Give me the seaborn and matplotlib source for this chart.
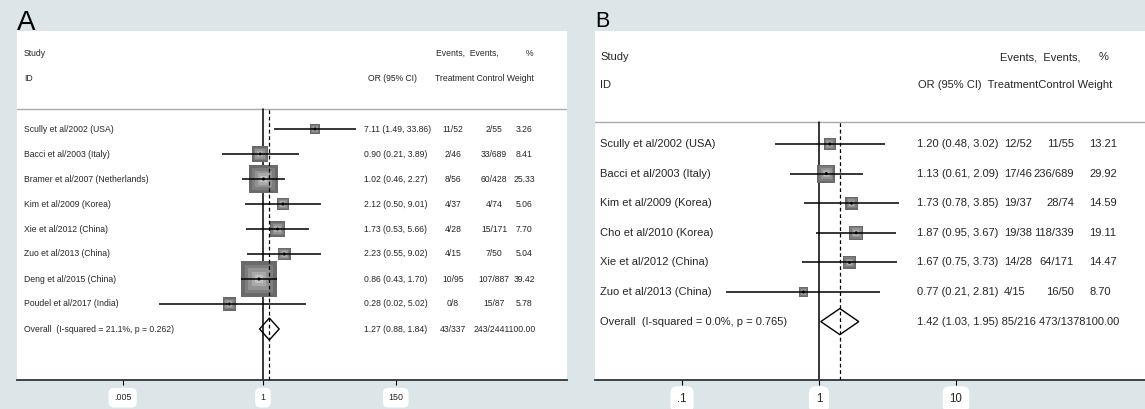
import numpy as np
import matplotlib
matplotlib.use("Agg")
import matplotlib.pyplot as plt
import matplotlib.transforms as mtransforms
from matplotlib.ticker import NullLocator
import seaborn as sns

# ---------------- data: panel A ----------------
a_studies = ["Scully et al/2002 (USA)", "Bacci et al/2003 (Italy)",
             "Bramer et al/2007 (Netherlands)", "Kim et al/2009 (Korea)",
             "Xie et al/2012 (China)", "Zuo et al/2013 (China)",
             "Deng et al/2015 (China)", "Poudel et al/2017 (India)"]
a_or = [7.11, 0.90, 1.02, 2.12, 1.73, 2.23, 0.86, 0.28]
a_lo = [1.49, 0.21, 0.46, 0.50, 0.53, 0.55, 0.43, 0.02]
a_hi = [33.86, 3.89, 2.27, 9.01, 5.66, 9.02, 1.70, 5.02]
a_treat = ["11/52", "2/46", "8/56", "4/37", "4/28", "4/15", "10/95", "0/8"]
a_ctrl = ["2/55", "33/689", "60/428", "4/74", "15/171", "7/50", "107/887", "15/87"]
a_weight = [3.26, 8.41, 25.33, 5.06, 7.70, 5.04, 39.42, 5.78]
a_overall = [1.27, 0.88, 1.84]
a_overall_label = "Overall  (I-squared = 21.1%, p = 0.262)"
a_overall_treat = "43/337"
a_overall_ctrl = "243/2441"
a_overall_weight = 100.00
a_ticks = [0.005, 1, 150]
a_ticklabels = [".005", "1", "150"]

# ---------------- data: panel B ----------------
b_studies = ["Scully et al/2002 (USA)", "Bacci et al/2003 (Italy)",
             "Kim et al/2009 (Korea)", "Cho et al/2010 (Korea)",
             "Xie et al/2012 (China)", "Zuo et al/2013 (China)"]
b_or = [1.20, 1.13, 1.73, 1.87, 1.67, 0.77]
b_lo = [0.48, 0.61, 0.78, 0.95, 0.75, 0.21]
b_hi = [3.02, 2.09, 3.85, 3.67, 3.73, 2.81]
b_treat = ["12/52", "17/46", "19/37", "19/38", "14/28", "4/15"]
b_ctrl = ["11/55", "236/689", "28/74", "118/339", "64/171", "16/50"]
b_weight = [13.21, 29.92, 14.59, 19.11, 14.47, 8.70]
b_overall = [1.42, 1.03, 1.95]
b_overall_label = "Overall  (I-squared = 0.0%, p = 0.765)"
b_overall_treat = "85/216"
b_overall_ctrl = "473/1378"
b_overall_weight = 100.00
b_ticks = [0.1, 1, 10]
b_ticklabels = [".1", "1", "10"]

# ---------------- style ----------------
sns.set_style("white")
plt.rcParams["font.family"] = ["Liberation Sans", "DejaVu Sans"]

W, H = 1145, 409
BG = "#dce5e8"
fig = plt.figure(figsize=(W / 100, H / 100), dpi=100, facecolor=BG)

layout_a = dict(left=17, width=550, top=31, bottom=380, one_px=263, ppd=61.0,
                row0=129, spacing=25.0, study_y=53, id_y=78, sep_y=109, fs=6.2,
                sq_k=5.6, label_x=24,
                or_col=(364, "left"),
                treat_col=(453, "center"), ctrl_col=(494, "center"), w_col=(524, "center"),
                heads1=[("Events,  Events,", 436, "left"), ("%", 530, "center")],
                heads2=[("OR (95% CI)", 368, "left"), ("Treatment Control Weight", 435, "left")],
                ov_mode="columns", ov_treat=(453, "center"), ov_rest=(505, "center"),
                letter="A", letter_x=17, letter_base=30, letter_fs=20,
                tick_fs=6.4)
layout_b = dict(left=595, width=550, top=31, bottom=380, one_px=819, ppd=137.0,
                row0=144, spacing=29.6, study_y=57, id_y=85, sep_y=122, fs=8.0,
                sq_k=3.3, label_x=600,
                or_col=(917, "left"),
                treat_col=(1004, "left"), ctrl_col=(1074, "right"), w_col=(1089, "left"),
                heads1=[("Events,  Events,", 1000, "left"), ("%", 1099, "left")],
                heads2=[("OR (95% CI)  TreatmentControl Weight", 918, "left")],
                ov_mode="joined",
                letter="B", letter_x=595, letter_base=27, letter_fs=15.5,
                tick_fs=8.3)

SQ_COLORS = ["#6a6a6a", "#7d7d7d", "#939393", "#aaaaaa", "#c2c2c2"]
SQ_FRACS = [1.0, 0.8, 0.6, 0.4, 0.22]


def draw_panel(L, studies, ors, los, his, treats, ctrls, weights,
               overall, ov_label, ov_treat, ov_ctrl, ov_w, ticks, ticklabels):
    h = L["bottom"] - L["top"]
    ax = fig.add_axes([L["left"] / W, (H - L["bottom"]) / H, L["width"] / W, h / H])
    ax.set_facecolor("white")
    # x: log scale anchored so that 1 sits at one_px
    lo_dec = -(L["one_px"] - L["left"]) / L["ppd"]
    hi_dec = lo_dec + L["width"] / L["ppd"]
    ax.set_xscale("log")
    ax.set_xlim(10 ** lo_dec, 10 ** hi_dec)
    # y: row units
    sp = L["spacing"]
    ytop = -(L["row0"] - L["top"]) / sp
    ybot = ytop + h / sp
    ax.set_ylim(ybot, ytop)

    def ypx(px):
        return (px - L["row0"]) / sp

    def fx(px):
        return (px - L["left"]) / L["width"]

    tr = mtransforms.blended_transform_factory(ax.transAxes, ax.transData)
    fs = L["fs"]
    n = len(studies)
    rows = np.arange(n)
    ov_row = n

    def put(px, y, s, ha="left"):
        ax.text(fx(px), y, s, transform=tr, fontsize=fs, va="center", ha=ha)

    # header
    put(L["label_x"], ypx(L["study_y"]), "Study")
    put(L["label_x"], ypx(L["id_y"]), "ID")
    for s, px, ha in L["heads1"]:
        put(px, ypx(L["study_y"]), s, ha)
    for s, px, ha in L["heads2"]:
        put(px, ypx(L["id_y"]), s, ha)

    sep = ypx(L["sep_y"])
    ax.axhline(sep, color="#a9a9a9", lw=1.0, zorder=1)
    ymax_frac = (L["bottom"] - L["sep_y"]) / h
    ax.axvline(1, ymin=0, ymax=ymax_frac, color="black", lw=1.1, zorder=1)
    ax.axvline(overall[0], ymin=0, ymax=ymax_frac, color="black", lw=0.9,
               dashes=(3, 2.2), zorder=4)

    # weighted squares (layered gradient)
    sides = L["sq_k"] * np.sqrt(np.asarray(weights))
    for frac, col in zip(SQ_FRACS, SQ_COLORS):
        sizes = (sides * frac * 0.72) ** 2
        sns.scatterplot(x=np.asarray(ors), y=rows, s=sizes, marker="s", color=col,
                        edgecolor="none", linewidth=0, ax=ax, legend=False, zorder=2)
    # confidence intervals
    ax.hlines(rows, los, his, color="black", lw=1.1, zorder=3)
    sns.scatterplot(x=np.asarray(ors), y=rows, s=5, marker="o", color="black",
                    edgecolor="none", ax=ax, legend=False, zorder=4)

    # overall diamond
    est, olo, ohi = overall
    dh = 0.44
    ax.fill([olo, est, ohi, est], [ov_row, ov_row - dh, ov_row, ov_row + dh],
            facecolor="none", edgecolor="black", lw=1.0, zorder=3)

    # study text columns
    for i in range(n):
        put(L["label_x"], i, studies[i])
        put(L["or_col"][0], i, f"{ors[i]:.2f} ({los[i]:.2f}, {his[i]:.2f})", L["or_col"][1])
        put(L["treat_col"][0], i, treats[i], L["treat_col"][1])
        put(L["ctrl_col"][0], i, ctrls[i], L["ctrl_col"][1])
        put(L["w_col"][0], i, f"{weights[i]:.2f}", L["w_col"][1])
    # overall text
    put(L["label_x"], ov_row, ov_label)
    ci_txt = f"{est:.2f} ({olo:.2f}, {ohi:.2f})"
    if L["ov_mode"] == "joined":
        put(L["or_col"][0], ov_row, f"{ci_txt} {ov_treat} {ov_ctrl}{ov_w:.2f}")
    else:
        put(L["or_col"][0], ov_row, ci_txt, L["or_col"][1])
        put(L["ov_treat"][0], ov_row, ov_treat, L["ov_treat"][1])
        put(L["ov_rest"][0], ov_row, f"{ov_ctrl}{ov_w:.2f}", L["ov_rest"][1])

    # axes styling
    for side in ["left", "right", "top"]:
        ax.spines[side].set_visible(False)
    ax.spines["bottom"].set_color("#333333")
    ax.spines["bottom"].set_linewidth(1.3)
    ax.set_yticks([])
    ax.set_xticks(ticks)
    ax.set_xticklabels(ticklabels)
    ax.xaxis.set_minor_locator(NullLocator())
    ax.tick_params(axis="x", direction="out", length=3.5, width=0.8, color="black",
                   pad=6, labelsize=L["tick_fs"], bottom=True)
    for lbl in ax.get_xticklabels():
        lbl.set_bbox(dict(boxstyle="round,pad=0.6", fc="white", ec="none"))
    ax.set_xlabel("")
    ax.set_ylabel("")

    fig.text(L["letter_x"] / W, 1 - L["letter_base"] / H, L["letter"],
             fontsize=L["letter_fs"], va="baseline", ha="left", color="black")
    return ax


draw_panel(layout_a, a_studies, a_or, a_lo, a_hi, a_treat, a_ctrl, a_weight,
           a_overall, a_overall_label, a_overall_treat, a_overall_ctrl, a_overall_weight,
           a_ticks, a_ticklabels)
draw_panel(layout_b, b_studies, b_or, b_lo, b_hi, b_treat, b_ctrl, b_weight,
           b_overall, b_overall_label, b_overall_treat, b_overall_ctrl, b_overall_weight,
           b_ticks, b_ticklabels)

fig.savefig("out.png", dpi=100, facecolor=BG)
